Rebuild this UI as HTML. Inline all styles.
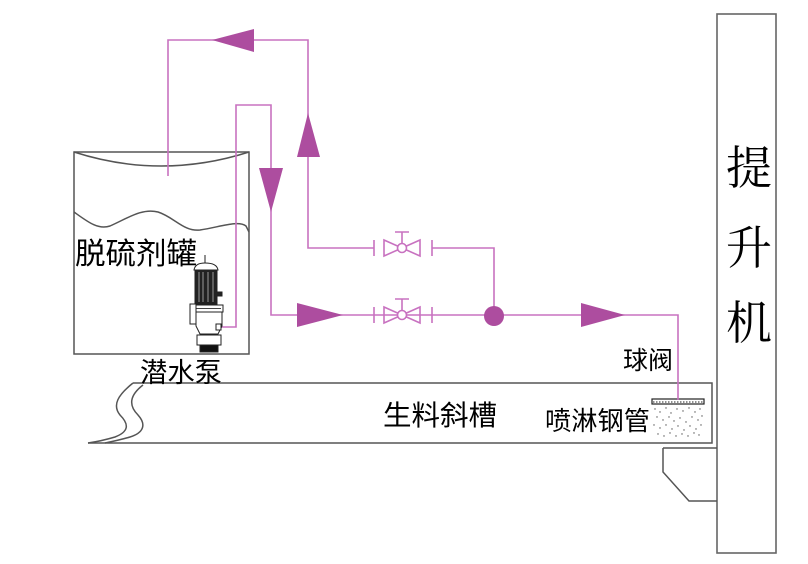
<!DOCTYPE html>
<html>
<head>
<meta charset="utf-8">
<style>
html,body{margin:0;padding:0;background:#fff;}
svg{display:block;}
.t{font-family:"Liberation Sans","Noto Sans CJK SC",sans-serif;fill:#000;}
.s{font-family:"Liberation Serif","Noto Serif CJK SC",serif;fill:#000;}
</style>
</head>
<body>
<svg width="808" height="564" viewBox="0 0 808 564" xmlns="http://www.w3.org/2000/svg">
<rect width="808" height="564" fill="#fff"/>

<!-- Elevator -->
<rect x="717" y="14" width="59" height="539" fill="none" stroke="#666" stroke-width="1.6"/>
<text class="s" x="726" y="184" font-size="46">提</text>
<text class="s" x="726" y="264" font-size="46">升</text>
<text class="s" x="726" y="339" font-size="46">机</text>

<!-- Tank -->
<g fill="none" stroke="#555" stroke-width="1.5">
<path d="M74,152 H249 V354 H74 Z"/>
<path d="M74,152 Q161,180 249,152"/>
<path d="M74,212 C88,222 98,230 110,226 C128,218 142,208 158,212 C174,217 184,232 200,230 C220,227 238,220 246,226 L249,232"/>
</g>
<text class="t" x="75" y="264" font-size="30" textLength="122" lengthAdjust="spacingAndGlyphs">脱硫剂罐</text>

<!-- Chute -->
<g fill="none" stroke="#555" stroke-width="1.5">
<path d="M133,383 H712 V443 H88"/>
<path d="M133,383 C118,395 112,405 120,415 C130,425 128,432 115,437 C105,440 95,442 88,443"/>
<path d="M143,385 C130,395 128,405 138,415 C147,425 143,433 130,437 C120,440 110,442 105,443"/>
<path d="M663,448 H717 M663,448 V472 L689,501 H717"/>
</g>
<text class="t" x="383" y="425" font-size="28" textLength="114" lengthAdjust="spacingAndGlyphs">生料斜槽</text>
<text class="t" x="140" y="382" font-size="27" textLength="82" lengthAdjust="spacingAndGlyphs">潜水泵</text>
<text class="t" x="623" y="369" font-size="25" textLength="50" lengthAdjust="spacingAndGlyphs">球阀</text>
<text class="t" x="545" y="430" font-size="26" textLength="105" lengthAdjust="spacingAndGlyphs">喷淋钢管</text>

<!-- Spray pipe -->
<rect x="652" y="399" width="52" height="5" fill="#fff" stroke="#222" stroke-width="1.2"/>
<line x1="653" y1="402" x2="703" y2="402" stroke="#222" stroke-width="1" stroke-dasharray="1.5,1.5"/>
<g fill="#555">
<circle cx="655" cy="409" r="0.7"/><circle cx="660" cy="412" r="0.7"/><circle cx="666" cy="408" r="0.7"/><circle cx="671" cy="413" r="0.7"/><circle cx="677" cy="409" r="0.7"/><circle cx="683" cy="411" r="0.7"/><circle cx="689" cy="408" r="0.7"/><circle cx="695" cy="412" r="0.7"/><circle cx="700" cy="409" r="0.7"/>
<circle cx="657" cy="417" r="0.7"/><circle cx="663" cy="420" r="0.7"/><circle cx="669" cy="417" r="0.7"/><circle cx="674" cy="421" r="0.7"/><circle cx="680" cy="418" r="0.7"/><circle cx="686" cy="422" r="0.7"/><circle cx="692" cy="417" r="0.7"/><circle cx="698" cy="420" r="0.7"/><circle cx="702" cy="416" r="0.7"/>
<circle cx="654" cy="425" r="0.7"/><circle cx="660" cy="428" r="0.7"/><circle cx="666" cy="425" r="0.7"/><circle cx="672" cy="429" r="0.7"/><circle cx="678" cy="426" r="0.7"/><circle cx="684" cy="430" r="0.7"/><circle cx="690" cy="426" r="0.7"/><circle cx="696" cy="429" r="0.7"/><circle cx="701" cy="425" r="0.7"/>
<circle cx="658" cy="434" r="0.7"/><circle cx="664" cy="436" r="0.7"/><circle cx="670" cy="433" r="0.7"/><circle cx="676" cy="436" r="0.7"/><circle cx="682" cy="434" r="0.7"/><circle cx="688" cy="436" r="0.7"/><circle cx="694" cy="433" r="0.7"/><circle cx="699" cy="435" r="0.7"/>
</g>

<!-- Pink pipes -->
<g fill="none" stroke="#c872c0" stroke-width="1.6">
<path d="M168,176 V40 H308 V248 H374"/>
<path d="M432,248 H494 V316"/>
<path d="M219,327 H236 V105 H271 V315 H678 V400"/>
</g>
<g fill="#ad4d9f">
<polygon points="212,40 254,29 254,52"/>
<polygon points="308,113 297,157 320,157"/>
<polygon points="271,212 259,168 283,168"/>
<polygon points="343,315 297,303 297,327"/>
<polygon points="625,315 581,303 581,327"/>
<circle cx="494" cy="316" r="10"/>
</g>

<!-- Valves -->
<g fill="none" stroke="#c872c0" stroke-width="1.6">
<path d="M374,240 V256 M432,240 V256"/>
<path d="M384,240 V256 L402,248 Z M420,240 V256 L402,248 Z"/>
<path d="M402,243.5 V232 M395,232 H409"/>
<circle cx="402" cy="248" r="4.5" fill="#fff"/>
<path d="M374,307 V323 M432,307 V323"/>
<path d="M384,307 V323 L402,315 Z M420,307 V323 L402,315 Z"/>
<path d="M402,310.5 V299 M395,299 H409"/>
<circle cx="402" cy="315" r="4.5" fill="#fff"/>
</g>

<!-- Pump -->
<g stroke="#222" stroke-width="1">
<line x1="205" y1="255" x2="205" y2="264"/>
<path d="M194,270 Q195,263 205,263 Q217,263 218,270 Z" fill="#fff"/>
<rect x="195" y="270" width="22" height="35" fill="#222"/>
<line x1="199" y1="272" x2="199" y2="302" stroke="#999"/>
<line x1="203" y1="272" x2="203" y2="302" stroke="#999"/>
<line x1="208" y1="272" x2="208" y2="302" stroke="#999"/>
<line x1="213" y1="272" x2="213" y2="302" stroke="#999"/>
<rect x="217" y="292" width="5" height="4" fill="#222"/>
<rect x="192" y="305" width="31" height="7" fill="#fff"/>
<line x1="194" y1="308.5" x2="221" y2="308.5" stroke="#444"/>
<rect x="190" y="304" width="6" height="20" fill="#fff"/>
<path d="M196,312 H222 V326 L218,334 H200 L196,326 Z" fill="#fff"/>
<rect x="216" y="324" width="5" height="6" fill="#fff"/>
<rect x="197" y="335" width="24" height="10" fill="#fff"/>
<rect x="200" y="345" width="18" height="7" fill="#111"/>
</g>
</svg>
</body>
</html>
